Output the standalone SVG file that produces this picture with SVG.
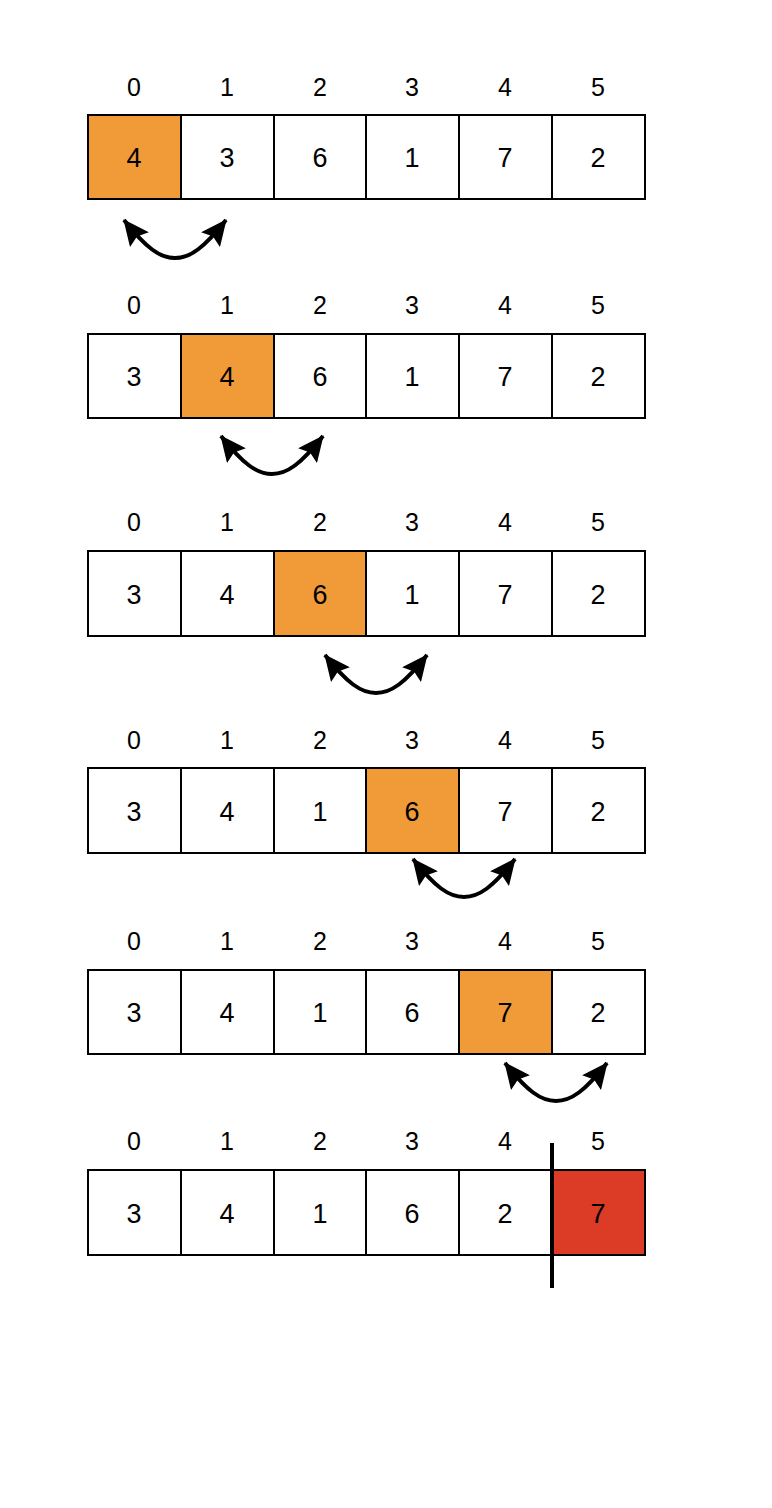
<svg xmlns="http://www.w3.org/2000/svg" width="772" height="1508" viewBox="0 0 772 1508">
<style>
.c{fill:#ffffff;stroke:#000;stroke-width:2}
.o{fill:#F19A38;stroke:#000;stroke-width:2}
.r{fill:#DC3B26;stroke:#000;stroke-width:2}
.sw{fill:none;stroke:#000;stroke-width:4}
.v{font-size:27px}
</style>
<defs>
<marker id="ah" viewBox="0 0 26 24" refX="25" refY="12" markerWidth="26" markerHeight="24" orient="auto-start-reverse" markerUnits="userSpaceOnUse">
<path d="M0,0 L26,12 L0,24 L4,12 Z" fill="#000"/>
</marker>
</defs>
<g font-family="Liberation Sans, Arial, sans-serif" font-size="25" text-anchor="middle" fill="#000">
<g id="row1">
<text x="134" y="96">0</text><text x="227" y="96">1</text><text x="320" y="96">2</text><text x="412" y="96">3</text><text x="505" y="96">4</text><text x="598" y="96">5</text>
<rect class="o" x="88" y="115" width="93" height="84"/><rect class="c" x="181" y="115" width="93" height="84"/><rect class="c" x="274" y="115" width="92" height="84"/><rect class="c" x="366" y="115" width="93" height="84"/><rect class="c" x="459" y="115" width="93" height="84"/><rect class="c" x="552" y="115" width="93" height="84"/>
<text class="v" x="134" y="167">4</text><text class="v" x="227" y="167">3</text><text class="v" x="320" y="167">6</text><text class="v" x="412" y="167">1</text><text class="v" x="505" y="167">7</text><text class="v" x="598" y="167">2</text>
</g>
<g id="row2">
<text x="134" y="314">0</text><text x="227" y="314">1</text><text x="320" y="314">2</text><text x="412" y="314">3</text><text x="505" y="314">4</text><text x="598" y="314">5</text>
<rect class="c" x="88" y="334" width="93" height="84"/><rect class="o" x="181" y="334" width="93" height="84"/><rect class="c" x="274" y="334" width="92" height="84"/><rect class="c" x="366" y="334" width="93" height="84"/><rect class="c" x="459" y="334" width="93" height="84"/><rect class="c" x="552" y="334" width="93" height="84"/>
<text class="v" x="134" y="386">3</text><text class="v" x="227" y="386">4</text><text class="v" x="320" y="386">6</text><text class="v" x="412" y="386">1</text><text class="v" x="505" y="386">7</text><text class="v" x="598" y="386">2</text>
</g>
<g id="row3">
<text x="134" y="531">0</text><text x="227" y="531">1</text><text x="320" y="531">2</text><text x="412" y="531">3</text><text x="505" y="531">4</text><text x="598" y="531">5</text>
<rect class="c" x="88" y="551" width="93" height="85"/><rect class="c" x="181" y="551" width="93" height="85"/><rect class="o" x="274" y="551" width="92" height="85"/><rect class="c" x="366" y="551" width="93" height="85"/><rect class="c" x="459" y="551" width="93" height="85"/><rect class="c" x="552" y="551" width="93" height="85"/>
<text class="v" x="134" y="604">3</text><text class="v" x="227" y="604">4</text><text class="v" x="320" y="604">6</text><text class="v" x="412" y="604">1</text><text class="v" x="505" y="604">7</text><text class="v" x="598" y="604">2</text>
</g>
<g id="row4">
<text x="134" y="749">0</text><text x="227" y="749">1</text><text x="320" y="749">2</text><text x="412" y="749">3</text><text x="505" y="749">4</text><text x="598" y="749">5</text>
<rect class="c" x="88" y="768" width="93" height="85"/><rect class="c" x="181" y="768" width="93" height="85"/><rect class="c" x="274" y="768" width="92" height="85"/><rect class="o" x="366" y="768" width="93" height="85"/><rect class="c" x="459" y="768" width="93" height="85"/><rect class="c" x="552" y="768" width="93" height="85"/>
<text class="v" x="134" y="821">3</text><text class="v" x="227" y="821">4</text><text class="v" x="320" y="821">1</text><text class="v" x="412" y="821">6</text><text class="v" x="505" y="821">7</text><text class="v" x="598" y="821">2</text>
</g>
<g id="row5">
<text x="134" y="950">0</text><text x="227" y="950">1</text><text x="320" y="950">2</text><text x="412" y="950">3</text><text x="505" y="950">4</text><text x="598" y="950">5</text>
<rect class="c" x="88" y="970" width="93" height="84"/><rect class="c" x="181" y="970" width="93" height="84"/><rect class="c" x="274" y="970" width="92" height="84"/><rect class="c" x="366" y="970" width="93" height="84"/><rect class="o" x="459" y="970" width="93" height="84"/><rect class="c" x="552" y="970" width="93" height="84"/>
<text class="v" x="134" y="1022">3</text><text class="v" x="227" y="1022">4</text><text class="v" x="320" y="1022">1</text><text class="v" x="412" y="1022">6</text><text class="v" x="505" y="1022">7</text><text class="v" x="598" y="1022">2</text>
</g>
<g id="row6">
<text x="134" y="1150">0</text><text x="227" y="1150">1</text><text x="320" y="1150">2</text><text x="412" y="1150">3</text><text x="505" y="1150">4</text><text x="598" y="1150">5</text>
<rect class="c" x="88" y="1170" width="93" height="85"/><rect class="c" x="181" y="1170" width="93" height="85"/><rect class="c" x="274" y="1170" width="92" height="85"/><rect class="c" x="366" y="1170" width="93" height="85"/><rect class="c" x="459" y="1170" width="93" height="85"/><rect class="r" x="552" y="1170" width="93" height="85"/>
<text class="v" x="134" y="1223">3</text><text class="v" x="227" y="1223">4</text><text class="v" x="320" y="1223">1</text><text class="v" x="412" y="1223">6</text><text class="v" x="505" y="1223">2</text><text class="v" x="598" y="1223">7</text>
</g>
</g>
<g id="connectors">
<path class="sw" marker-start="url(#ah)" marker-end="url(#ah)" transform="translate(124,220)" d="M0,0 C22,28 36,38 51,38 C66,38 80,28 102,0"/>
<path class="sw" marker-start="url(#ah)" marker-end="url(#ah)" transform="translate(221,436)" d="M0,0 C22,28 36,38 51,38 C66,38 80,28 102,0"/>
<path class="sw" marker-start="url(#ah)" marker-end="url(#ah)" transform="translate(325,655)" d="M0,0 C22,28 36,38 51,38 C66,38 80,28 102,0"/>
<path class="sw" marker-start="url(#ah)" marker-end="url(#ah)" transform="translate(413,859)" d="M0,0 C22,28 36,38 51,38 C66,38 80,28 102,0"/>
<path class="sw" marker-start="url(#ah)" marker-end="url(#ah)" transform="translate(505,1063)" d="M0,0 C22,28 36,38 51,38 C66,38 80,28 102,0"/>
<line x1="552" y1="1143" x2="552" y2="1288" stroke="#000" stroke-width="4"/>
</g>
</svg>
